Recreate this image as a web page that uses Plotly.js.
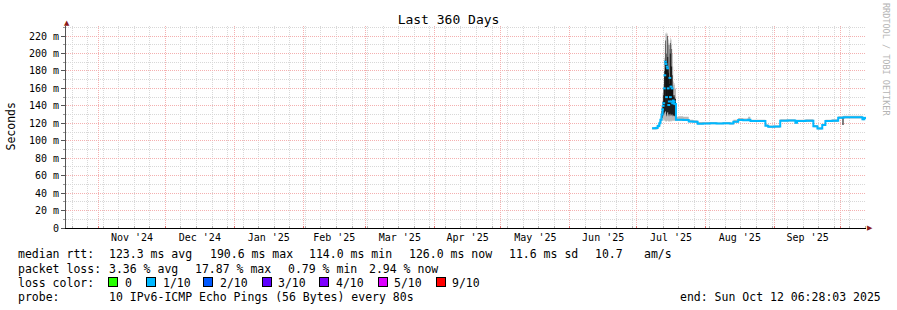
<!DOCTYPE html>
<html>
<head>
<meta charset="utf-8">
<script src="https://cdn.plot.ly/plotly-3.0.1.min.js"></script>
<style>
html,body{margin:0;padding:0;background:#fff;}
#chart{width:897px;height:310px;}
</style>
</head>
<body>
<div id="chart"></div>
<script>
// ---- data ----
const dates = [
 '2025-07-08 00:00','2025-07-09 12:00','2025-07-10 12:00','2025-07-11 06:00','2025-07-11 18:00',
 '2025-07-12 06:00','2025-07-12 18:00','2025-07-13 00:00','2025-07-13 06:00','2025-07-13 12:00',
 '2025-07-13 18:00','2025-07-14 00:00','2025-07-14 06:00','2025-07-14 12:00','2025-07-14 18:00',
 '2025-07-15 00:00','2025-07-15 06:00','2025-07-15 12:00','2025-07-15 18:00','2025-07-16 00:00',
 '2025-07-16 06:00','2025-07-16 12:00','2025-07-16 18:00','2025-07-17 00:00','2025-07-17 06:00',
 '2025-07-17 12:00','2025-07-17 18:00','2025-07-18 00:00','2025-07-18 06:00','2025-07-18 18:00',
 '2025-07-20 00:00','2025-07-22 00:00','2025-07-24 12:00','2025-07-26 12:00','2025-07-28 12:00',
 '2025-07-31 00:00','2025-08-03 00:00','2025-08-06 00:00','2025-08-09 00:00','2025-08-12 00:00',
 '2025-08-13 14:00','2025-08-15 18:00','2025-08-18 00:00','2025-08-20 06:00','2025-08-21 06:00',
 '2025-08-24 12:00','2025-08-28 00:00','2025-08-29 06:00','2025-09-01 00:00','2025-09-03 16:00',
 '2025-09-07 00:00','2025-09-10 12:00','2025-09-11 06:00','2025-09-15 00:00','2025-09-18 14:00',
 '2025-09-20 10:00','2025-09-22 14:00','2025-09-24 00:00','2025-09-27 00:00','2025-09-29 18:00',
 '2025-10-01 16:00','2025-10-02 04:00','2025-10-05 00:00','2025-10-08 00:00','2025-10-10 16:00',
 '2025-10-11 12:00','2025-10-12 06:00'
];
const medianRtt = [
 114.2,114.5,117,120,124,
 130,136,140,143,160,
 175,190.6,188,150,185,
 183,160,141,145,172,
 150,162,145,160,143,
 146,143,145,142,124,
 124,123.8,122,121.8,119.5,
 119.8,120,119.8,120,119.7,
 121.8,123.8,123.5,124,122.6,
 122.6,117.3,116,116.2,123,
 123.2,120.5,122.6,122.8,116.5,
 114,118,122.6,122.8,126.4,
 126.4,126.8,127,126.8,124.5,
 126,126
];
const smokeMin = [
 113,113,115,117,120,
 123,124,124,124,123,
 123,122,122,122,123,
 123,122,122,122,123,
 122,123,122,123,123,
 123,123,123,123,122.5,
 122.5,122.5,121,120.5,118.5,
 118.8,119,118.8,119,118.7,
 120.5,122.5,122.5,122.5,121.5,
 121.5,116.5,115,115,122,
 122,119.5,121.5,121.5,115.5,
 113,117,121.5,121.5,125,
 125,125.5,125.5,125.5,123.5,
 125,125
];
const smokeMax = [
 115.5,116,119,123,128,
 140,155,165,172,195,
 210,223,224,222,223,
 220,216,212,205,215,
 218,216,210,200,185,
 168,164,166,160,127.5,
 128,127.5,124,123.5,121.5,
 121.5,121.5,121,121.5,121,
 124,126,125.5,127.5,124,
 124,119,117.5,117.5,124.5,
 124.5,122,124,124.5,118,
 115.5,119.5,124,124.5,128,
 128,128.5,128.5,128.5,126,
 127.5,127.5
];
const smokeDenseMin = [
 114.2,114.5,117,120,124,
 126,128,130,130,132,
 133,134,130,128,132,
 133,130,128,130,131,
 129,130,129,130,128,
 129,129,128,128,124,
 124,123.8,122,121.8,119.5,
 119.8,120,119.8,120,119.7,
 121.8,123.8,123.5,124,122.6,
 122.6,117.3,116,116.2,123,
 123.2,120.5,122.6,122.8,116.5,
 114,118,122.6,122.8,126.4,
 118,126.8,127,126.8,124.5,
 126,126
];
const smokeDenseMax = [
 114.2,114.5,117,120,124,
 134,145,152,160,180,
 192,215,200,170,220,
 196,178,210,165,200,
 212,185,205,175,160,
 152,150,152,148,124,
 124,123.8,122,121.8,119.5,
 119.8,120,119.8,120,119.7,
 121.8,123.8,123.5,124,122.6,
 122.6,117.3,116,116.2,123,
 123.2,120.5,122.6,122.8,116.5,
 114,118,122.6,122.8,126.4,
 126.4,126.8,127,126.8,124.5,
 126,126
];
const yTickVals = [0,20,40,60,80,100,120,140,160,180,200,220];
const yTickText = ['0','20 m','40 m','60 m','80 m','100 m','120 m','140 m','160 m','180 m','200 m','220 m'];
const lossLabels = ['0','1/10','2/10','3/10','4/10','5/10','9/10'];
const lossColors = ['#26ff00','#00b8ff','#0059ff','#5e00ff','#7e00ff','#dd00ff','#ff0000'];
const statsRtt = ['median rtt:','123.3 ms avg','190.6 ms max','114.0 ms min','126.0 ms now','11.6 ms sd','10.7','am/s'];
const statsLoss = ['packet loss:','3.36 % avg','17.87 % max','0.79 % min','2.94 % now'];
const probeText = ['probe:','10 IPv6-ICMP Echo Pings (56 Bytes) every 80s'];
const endText = 'end: Sun Oct 12 06:28:03 2025';

// ---- geometry / style ----
const L = 66, R = 866, T = 26, B = 228, W = R - L, H = B - T;
const px = x => (x - L) / W;
const py = y => (B - y) / H;
const MONO = 'DejaVu Sans Mono, monospace';
const nb = s => s.replace(/ /g, '\u00a0');
const spikeFrom = '2025-07-12 18:00', spikeTo = '2025-07-18 06:00';
const inSpike = d => d >= spikeFrom && d <= spikeTo;
const medianCalm = medianRtt.map((v, i) => (inSpike(dates[i]) && dates[i] !== spikeFrom && dates[i] !== spikeTo) ? null : v);
const medianSpike = medianRtt.map((v, i) => inSpike(dates[i]) ? v : null);

const traces = [
 {x: dates, y: smokeMin, type: 'scatter', mode: 'lines', line: {width: 0, shape: 'hv'}, hoverinfo: 'skip', showlegend: false},
 {x: dates, y: smokeMax, type: 'scatter', mode: 'lines', line: {width: 0, shape: 'hv'}, fill: 'tonexty', fillcolor: 'rgb(185,185,185)', hoverinfo: 'skip', showlegend: false},
 {x: dates, y: smokeDenseMin, type: 'scatter', mode: 'lines', line: {width: 0, shape: 'hv'}, hoverinfo: 'skip', showlegend: false},
 {x: dates, y: smokeDenseMax, type: 'scatter', mode: 'lines', line: {width: 0, shape: 'hv'}, fill: 'tonexty', fillcolor: 'rgb(30,30,30)', hoverinfo: 'skip', showlegend: false},
 {x: dates, y: medianSpike, type: 'scatter', mode: 'lines+markers', line: {width: 1, color: '#111', shape: 'hv'},
   marker: {symbol: 'line-ew', size: 2, line: {width: 2, color: '#00b8ff'}}, hoverinfo: 'skip', showlegend: false},
 {x: dates, y: medianCalm, type: 'scatter', mode: 'lines', line: {width: 2, color: '#00b8ff', shape: 'hv'}, hoverinfo: 'skip', showlegend: false}
];

const ann = [];
function txt(x, y, s, extra) {
  ann.push(Object.assign({xref: 'paper', yref: 'paper', x: px(x), y: py(y), text: nb(s), showarrow: false,
    xanchor: 'left', yanchor: 'middle', font: {family: MONO, size: 11.5, color: '#000'}}, extra || {}));
}
const rttX = [16, 107.3, 207.7, 307.3, 407.3, 507.3, 593.3, 642.3];
statsRtt.forEach((s, i) => txt(rttX[i], 254.5, s));
const lossX = [16, 107.3, 192.7, 286, 366.7];
statsLoss.forEach((s, i) => txt(lossX[i], 268.5, s));
txt(16, 282.5, 'loss color:');
const boxX = [108.3, 145.7, 203.3, 261.7, 319.3, 377.7, 435.7];
const labX = [123.3, 160.7, 218.3, 276, 334, 391.7, 450];
lossLabels.forEach((s, i) => {
  ann.push({xref: 'paper', yref: 'paper', x: px(boxX[i]), y: py(282), text: '\u00a0', showarrow: false,
    xanchor: 'left', yanchor: 'middle', width: 8, height: 8, bgcolor: lossColors[i], bordercolor: '#000',
    borderwidth: 1, borderpad: 0, font: {family: MONO, size: 6}});
  txt(labX[i], 282.5, s);
});
txt(16, 296.5, probeText[0]);
txt(107.3, 296.5, probeText[1]);
txt(678.3, 296.5, endText);
ann.push({xref: 'paper', yref: 'paper', x: px(10.5), y: py(126), text: 'Seconds', textangle: -90, showarrow: false,
  xanchor: 'center', yanchor: 'middle', font: {family: MONO, size: 11.5, color: '#000'}});
ann.push({xref: 'paper', yref: 'paper', x: px(886), y: py(60), text: nb('RRDTOOL / TOBI OETIKER'), textangle: 90, showarrow: false,
  xanchor: 'center', yanchor: 'middle', font: {family: MONO, size: 8.5, color: '#b4b4b4'}});
ann.push({xref: 'paper', yref: 'paper', x: px(67), y: py(23), text: '\u25B2', showarrow: false,
  xanchor: 'center', yanchor: 'middle', font: {family: 'DejaVu Sans', size: 7, color: '#8b1a1a'}});
ann.push({xref: 'paper', yref: 'paper', x: px(870), y: py(228), text: '\u25B6', showarrow: false,
  xanchor: 'center', yanchor: 'middle', font: {family: 'DejaVu Sans', size: 7, color: '#8b1a1a'}});

const layout = {
  width: 897, height: 310,
  margin: {l: L, r: 897 - R, t: T, b: 310 - B, pad: 0},
  paper_bgcolor: '#ffffff', plot_bgcolor: '#ffffff',
  title: {text: 'Last 360 Days', xref: 'container', x: 0.5, xanchor: 'center', yref: 'container', y: 1 - 19 / 310, yanchor: 'middle',
    font: {family: MONO, size: 13, color: '#000'}},
  showlegend: false,
  xaxis: {
    type: 'date', range: ['2024-10-17 06:28:03', '2025-10-12 06:28:03'],
    tick0: '2024-11-01', dtick: 'M1', ticklabelmode: 'period', tickformat: "%b '%y",
    tickfont: {family: MONO, size: 10, color: '#000'},
    showgrid: true, gridcolor: '#f4b0b0', gridwidth: 1, griddash: '1px,1px',
    ticks: 'inside', ticklen: 2, tickcolor: '#e07070',
    showline: true, linecolor: '#000', linewidth: 1, zeroline: false,
    minor: {dtick: 7 * 86400000, tick0: '2024-10-20', showgrid: true, gridcolor: '#d8d8d8', griddash: '1px,1px',
      ticks: 'inside', ticklen: 2, tickcolor: '#b0b0b0'},
    fixedrange: true
  },
  yaxis: {
    range: [0, 231.5], tickmode: 'array', tickvals: yTickVals, ticktext: yTickText,
    tickfont: {family: MONO, size: 10, color: '#000'},
    showgrid: true, gridcolor: '#f4b0b0', gridwidth: 1, griddash: '1px,1px',
    ticks: 'outside', ticklen: 4, tickcolor: '#555',
    showline: true, linecolor: '#555', linewidth: 1, zeroline: false,
    minor: {dtick: 10, tick0: 0, showgrid: true, gridcolor: '#d8d8d8', griddash: '1px,1px', ticks: 'outside', ticklen: 2, tickcolor: '#999'},
    fixedrange: true
  },
  annotations: ann
};

Plotly.newPlot('chart', traces, layout, {displayModeBar: false, staticPlot: true});
</script>
</body>
</html>
